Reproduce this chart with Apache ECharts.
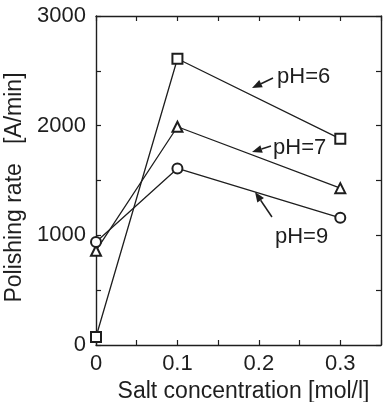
<!DOCTYPE html>
<html><head><meta charset="utf-8">
<script src="https://cdn.jsdelivr.net/npm/echarts@6/dist/echarts.min.js"></script>
<style>html,body{margin:0;padding:0;background:#fff}#c{width:383px;height:402px}</style>
</head><body><div id="c"></div>
<script>
var concentrations = [0, 0.1, 0.3];
var ph6 = [73, 2610, 1880];
var ph7 = [860, 1990, 1430];
var ph9 = [940, 1610, 1160];
var seriesNames = ['pH=6', 'pH=7', 'pH=9'];
var yTicks = [0, 1000, 2000, 3000];
var xTicks = [0, 0.1, 0.2, 0.3];
// annotations: text anchor, arrow tail, arrow head (data coords)
var annText = [[0.2223, 2444], [0.2174, 1796], [0.2198, 985]];
var annTail = [[0.2174, 2435], [0.2149, 1815], [0.2161, 1167]];
var annHead = [[0.1916, 2343], [0.1916, 1760], [0.1953, 1395]];

var FONT = '"Liberation Sans", Arial, Helvetica, sans-serif';
var INK = '#1e1e1e';
var chart = echarts.init(document.getElementById('c'), null, {renderer: 'canvas'});

function pairs(vals) { return concentrations.map(function (x, i) { return [x, vals[i]]; }); }
function mkSeries(name, vals, sym) {
  return {
    name: name, type: 'line', data: pairs(vals), symbol: sym, symbolSize: 10,
    lineStyle: {color: INK, width: 1.3}, itemStyle: {color: INK, borderColor: INK, borderWidth: 1.2},
    showAllSymbol: true, z: 5, animation: false
  };
}
var tickCommon = {show: true, inside: true, length: 5, lineStyle: {color: INK, width: 1.2}};
var minorCommon = {show: true, splitNumber: 2, length: 5, lineStyle: {color: INK, width: 1.2}};
chart.setOption({
  animation: false,
  grid: {left: 96, right: 2, top: 16, bottom: 57, show: false, containLabel: false, outerBoundsMode: 'none'},
  xAxis: [{
    type: 'value', min: 0, max: 0.35, interval: 0.1,
    axisLine: {show: true, onZero: false, lineStyle: {color: INK, width: 1.4}},
    axisTick: tickCommon, minorTick: minorCommon, splitLine: {show: false},
    axisLabel: {show: true, showMaxLabel: false, margin: 8, fontSize: 22, fontFamily: FONT, color: INK,
      formatter: function (v) { return xTicks.indexOf(Math.round(v * 10) / 10) >= 0 ? (v === 0 ? '0' : v.toFixed(1)) : ''; }},
    name: 'Salt concentration [mol/l]', nameLocation: 'middle', nameGap: 32,
    nameTextStyle: {fontSize: 23, fontFamily: FONT, color: INK, padding: [0, 0, 0, 10]}
  }, {
    type: 'value', min: 0, max: 0.35, interval: 0.1, position: 'top',
    axisLine: {show: true, onZero: false, lineStyle: {color: INK, width: 1.4}},
    axisTick: tickCommon, minorTick: minorCommon, splitLine: {show: false}, axisLabel: {show: false}
  }],
  yAxis: [{
    type: 'value', min: 0, max: 3000, interval: 1000,
    axisLine: {show: true, onZero: false, lineStyle: {color: INK, width: 1.4}},
    axisTick: tickCommon, minorTick: minorCommon, splitLine: {show: false},
    axisLabel: {show: true, margin: 10, fontSize: 22, fontFamily: FONT, color: INK,
      formatter: function (v) { return yTicks.indexOf(v) >= 0 ? String(v) : ''; }},
    name: 'Polishing rate   [A/min]', nameLocation: 'middle', nameGap: 63,
    nameTextStyle: {fontSize: 23, fontFamily: FONT, color: INK, padding: [0, 14, 0, 0]}
  }, {
    type: 'value', min: 0, max: 3000, interval: 1000, position: 'right',
    axisLine: {show: true, onZero: false, lineStyle: {color: INK, width: 1.4}},
    axisTick: tickCommon, minorTick: minorCommon, splitLine: {show: false}, axisLabel: {show: false}
  }],
  series: [
    mkSeries(seriesNames[0], ph6, 'emptyRect'),
    mkSeries(seriesNames[1], ph7, 'emptyTriangle'),
    mkSeries(seriesNames[2], ph9, 'emptyCircle')
  ]
});

function px(p) { return chart.convertToPixel({xAxisIndex: 0, yAxisIndex: 0}, p); }
var g = [];
for (var i = 0; i < seriesNames.length; i++) {
  var t = px(annText[i]), a = px(annTail[i]), h = px(annHead[i]);
  g.push({type: 'text', x: t[0], y: t[1], z: 10,
    style: {text: seriesNames[i], font: '22px ' + FONT, fill: INK, textAlign: 'left', textVerticalAlign: 'middle'}});
  var dx = h[0] - a[0], dy = h[1] - a[1], L = Math.sqrt(dx * dx + dy * dy);
  var ux = dx / L, uy = dy / L, hl = 10, hw = 4;
  var bx = h[0] - ux * hl, by = h[1] - uy * hl;
  g.push({type: 'line', z: 10, shape: {x1: a[0], y1: a[1], x2: bx, y2: by}, style: {stroke: INK, lineWidth: 1.5}});
  g.push({type: 'polygon', z: 10, shape: {points: [[h[0], h[1]], [bx - uy * hw, by + ux * hw], [bx + uy * hw, by - ux * hw]]},
    style: {fill: INK}});
}
chart.setOption({graphic: g});
</script></body></html>
